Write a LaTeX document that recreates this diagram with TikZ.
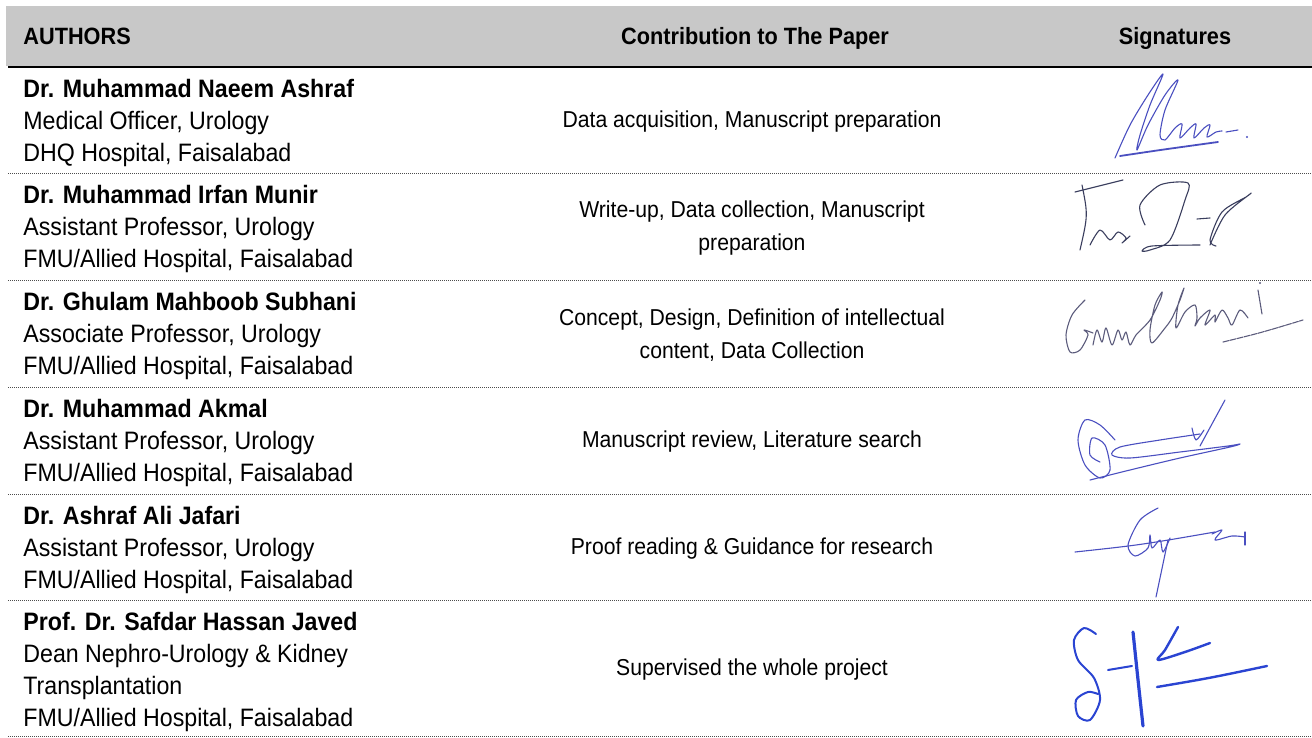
\documentclass[tikz,border=0pt]{standalone}
\usepackage{fontspec}
\setmainfont{Liberation Sans}[FakeStretch=0.92]
\definecolor{headgray}{HTML}{C8C8C8}
\definecolor{inkviolet}{HTML}{4A4FC0}
\definecolor{inkslate}{HTML}{3A3E5E}
\definecolor{inkgray}{HTML}{5C5C7C}
\definecolor{inkblue}{HTML}{2A44D2}
\begin{document}
\begin{tikzpicture}[x=0.5pt,y=-0.5pt,
		author/.style={anchor=north west,inner sep=0pt,align=left,font=\fontsize{12.6}{16}\selectfont},
		contrib/.style={inner sep=0pt,align=center,font=\fontsize{11.5}{16.5}\selectfont},
		head/.style={inner sep=0pt,font=\fontsize{11.8}{14}\selectfont\bfseries},
		rowline/.style={black!70,line width=0.5pt,dash pattern=on 0.5pt off 0.5pt},
		pen/.style={line width=0.55pt,line cap=round,line join=round}]
			      \useasboundingbox (0,0) rectangle (1312,738); % page
			      \fill [headgray] (6,6) rectangle (1312,66); % header band
			      \draw [line width=1.1pt] (8,67) -- (1312,67); % rule under header
			      \node [head,anchor=base west] (hauth) at (23,45) {AUTHORS};
			      \node [head,anchor=base] (hcontrib) at (755,45) {Contribution to The Paper};
			      \node [head,anchor=base] (hsig) at (1175,45) {Signatures};
			      \foreach \y in {173,280,387,494,600,736}
			        \draw [rowline] (8,\y) -- (1312,\y); % row separators
			      % authors
			      \node [author] (auth1) at (23,79) {\textbf{Dr. Muhammad Naeem Ashraf}\\Medical Officer, Urology\\DHQ Hospital, Faisalabad};
			      \node [author] (auth2) at (23,185) {\textbf{Dr. Muhammad Irfan Munir}\\Assistant Professor, Urology\\FMU/Allied Hospital, Faisalabad};
			      \node [author] (auth3) at (23,292) {\textbf{Dr. Ghulam Mahboob Subhani}\\Associate Professor, Urology\\FMU/Allied Hospital, Faisalabad};
			      \node [author] (auth4) at (23,399) {\textbf{Dr. Muhammad Akmal}\\Assistant Professor, Urology\\FMU/Allied Hospital, Faisalabad};
			      \node [author] (auth5) at (23,506) {\textbf{Dr. Ashraf Ali Jafari}\\Assistant Professor, Urology\\FMU/Allied Hospital, Faisalabad};
			      \node [author] (auth6) at (23,612) {\textbf{Prof. Dr. Safdar Hassan Javed}\\Dean Nephro-Urology \& Kidney\\Transplantation\\FMU/Allied Hospital, Faisalabad};
			      % contributions
			      \node [contrib] (contrib1) at (752,122) {Data acquisition, Manuscript preparation};
			      \node [contrib] (contrib2) at (752,228) {Write-up, Data collection, Manuscript\\preparation};
			      \node [contrib] (contrib3) at (752,335) {Concept, Design, Definition of intellectual\\content, Data Collection};
			      \node [contrib] (contrib4) at (752,442) {Manuscript review, Literature search};
			      \node [contrib] (contrib5) at (752,549) {Proof reading \& Guidance for research};
			      \node [contrib] (contrib6) at (752,670) {Supervised the whole project};
			      % signature 1
			      \draw [pen,inkviolet] plot [smooth] coordinates {(1115,158) (1130,125) (1148,95) (1163,74) (1150,105) (1140,135) (1137,150) (1148,125) (1165,95) (1178,80) (1165,110) (1160,135) (1165,140) (1175,128) (1182,124) (1180,138) (1190,128) (1196,124) (1194,138) (1204,128) (1210,125) (1207,137) (1216,132) (1222,131)};
			      \draw [pen,inkviolet] (1226,132) -- (1238,130);
			      \draw [pen,inkviolet,line width=0.9pt] (1120,156) .. controls (1160,150) .. (1218,142); % underline
			      \fill [inkviolet] (1247,137) circle (1.2);
			      % signature 2
			      \draw [pen,inkslate] (1082,185) .. controls (1088,215) .. (1080,250);
			      \draw [pen,inkslate] (1075,192) -- (1123,180);
			      \draw [pen,inkslate] plot [smooth] coordinates {(1090,245) (1100,230) (1110,240) (1118,232) (1126,238) (1122,243) (1130,236)};
			      \draw [pen,inkslate] plot [smooth] coordinates {(1145,225) (1140,205) (1160,185) (1188,183) (1185,200) (1170,240) (1150,250) (1142,251) (1152,246) (1200,245)};
			      \draw [pen,inkslate] (1197,219) -- (1210,218);
			      \draw [pen,inkslate] plot [smooth] coordinates {(1210,245) (1225,215) (1250,194) (1246,197) (1222,212) (1210,240) (1216,246)};
			      % signature 3
			      \draw [pen,inkgray] plot [smooth] coordinates {(1085,300) (1072,315) (1066,335) (1070,352) (1080,350) (1088,335) (1084,330) (1093,333)};
			      \draw [pen,inkgray] plot [smooth] coordinates {(1093,345) (1097,330) (1102,342) (1106,328) (1112,345) (1118,330) (1122,340) (1126,332) (1130,345) (1136,335) (1150,320) (1160,300) (1162,292) (1155,305) (1150,330) (1152,343) (1165,328) (1172,318) (1180,300) (1184,288) (1178,305) (1176,328) (1185,312) (1195,305) (1197,318) (1195,326) (1200,318) (1210,310) (1205,325) (1215,315) (1215,322) (1222,310) (1228,318) (1232,325) (1240,310) (1248,318)};
			      \draw [pen,inkgray] (1258,290) -- (1262,314);
			      \fill [inkgray] (1260,283) circle (1.2);
			      \draw [pen,inkgray,dash pattern=on 3pt off 0.6pt] (1223,342) .. controls (1260,333) .. (1303,320);
			      % signature 4
			      \draw [pen,inkviolet] plot [smooth] coordinates {(1115,440) (1100,425) (1085,420) (1078,440) (1085,465) (1100,478) (1110,470) (1105,445) (1092,438) (1090,455) (1100,462)};
			      \draw [pen,inkviolet] plot [smooth] coordinates {(1090,480) (1130,470) (1180,458) (1230,447) (1240,444) (1228,446) (1180,452) (1130,458) (1112,455) (1120,447) (1160,440) (1200,434)};
			      \draw [pen,inkviolet] (1200,446) -- (1225,400);
			      \draw [pen,inkviolet] plot [smooth] coordinates {(1192,428) (1196,440) (1204,430)};
			      % signature 5
			      \draw [pen,inkviolet] (1075,552) .. controls (1140,545) .. (1215,532);
			      \draw [pen,inkviolet] plot [smooth] coordinates {(1158,508) (1140,520) (1128,545) (1135,556) (1148,548) (1150,535) (1152,548) (1160,540) (1163,552) (1170,538)};
			      \draw [pen,inkviolet] (1168,540) -- (1156,597);
			      \draw [pen,inkviolet] plot [smooth] coordinates {(1212,534) (1222,530) (1215,540) (1232,536) (1245,537)};
			      \draw [pen,inkviolet] (1245,532) -- (1245,545);
			      % signature 6
			      \draw [pen,inkblue,line width=1pt] plot [smooth] coordinates {(1096,634) (1084,628) (1074,640) (1078,660) (1094,678) (1100,700) (1090,720) (1078,716) (1076,700) (1088,692) (1098,694)};
			      \draw [pen,inkblue,line width=1pt] (1108,670) -- (1132,666);
			      \draw [pen,inkblue,line width=1.6pt] (1133,632) .. controls (1138,680) .. (1143,726);
			      \draw [pen,inkblue,line width=1.2pt] plot [smooth] coordinates {(1178,627) (1165,650) (1158,660) (1185,652) (1210,643)};
			      \draw [pen,inkblue,line width=1.2pt] (1157,687) .. controls (1210,678) .. (1267,666);
		      \end{tikzpicture}
\end{document}
